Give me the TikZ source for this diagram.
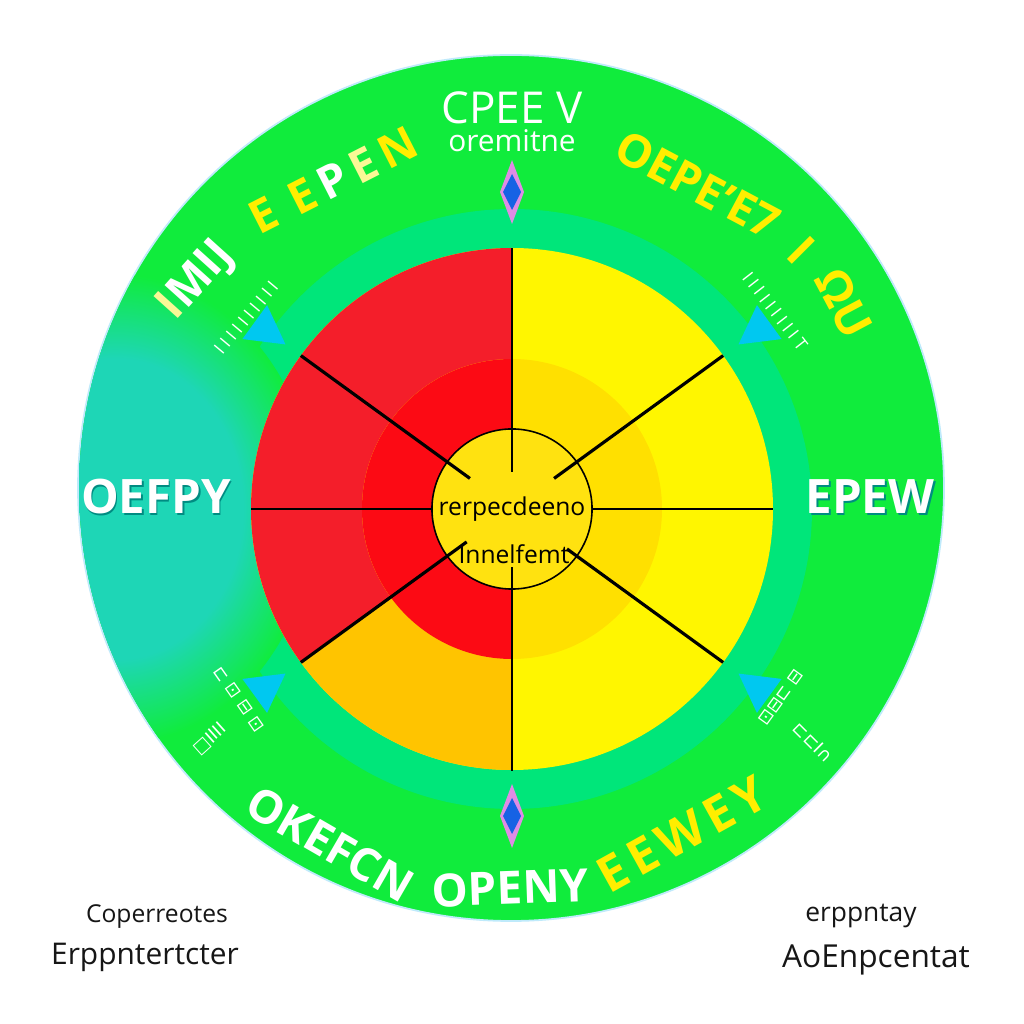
\documentclass[tikz,border=0pt]{standalone}
\usepackage{fontspec}
\setmainfont{Open Sans}
\newfontfamily\glyphfont{DejaVu Sans}
\usetikzlibrary{calc}
\definecolor{ringgreen}{RGB}{16,236,60}
\definecolor{mintband}{RGB}{0,230,122}
\definecolor{tealglow}{RGB}{30,214,182}
\definecolor{redouter}{RGB}{244,30,42}
\definecolor{redinner}{RGB}{252,10,20}
\definecolor{amber}{RGB}{255,196,0}
\definecolor{yellowouter}{RGB}{255,246,0}
\definecolor{yellowinner}{RGB}{255,224,0}
\definecolor{hubyellow}{RGB}{255,226,16}
\definecolor{tipcyan}{RGB}{0,200,240}
\definecolor{gemviolet}{RGB}{222,140,228}
\definecolor{gemblue}{RGB}{22,98,228}
\definecolor{labelyellow}{RGB}{255,238,0}
\definecolor{paleyellow}{RGB}{250,248,150}
\definecolor{shadowteal}{RGB}{0,140,130}
\definecolor{inkgray}{RGB}{22,22,22}
\pgfdeclareradialshading{tealhalo}{\pgfpoint{0bp}{0bp}}{color(0bp)=(tealglow); color(16bp)=(tealglow); color(25bp)=(ringgreen); color(50bp)=(ringgreen)}

\begin{document}
\begin{tikzpicture}[x=0.01cm, y=0.01cm,
  spoke/.style={line width=0.9pt, black},
  hline/.style={line width=0.7pt, black},
  vline/.style={line width=0.45pt, black},
  hubcircle/.style={circle, draw=black, line width=0.45pt, fill=hubyellow, minimum size=1.6cm, inner sep=0pt},
  hubtext/.style={font=\fontsize{7}{8}\selectfont, text=black, inner sep=0pt},
  toplabel/.style={font=\fontsize{12.5}{14}\selectfont, text=white, inner sep=0pt},
  subtoplabel/.style={font=\fontsize{8.5}{10}\selectfont, text=white, inner sep=0pt},
  biglabel/.style={font=\fontsize{13.5}{16}\selectfont\bfseries, text=white, inner sep=0pt},
  arclabel/.style={font=\fontsize{13}{15}\selectfont\bfseries, inner sep=0pt},
  tinylabel/.style={font=\fontsize{5}{6}\selectfont\addfontfeature{LetterSpace=25}, text=white, inner sep=0pt},
  boxlabel/.style={font=\glyphfont\fontsize{5}{6}\selectfont, text=white, inner sep=0pt},
  cornersmall/.style={font=\fontsize{7}{8}\selectfont, text=inkgray, anchor=base, inner sep=0pt},
  cornerlarge/.style={font=\fontsize{8.5}{10}\selectfont, text=inkgray, anchor=base, inner sep=0pt}
]
\useasboundingbox (0,0) rectangle (1024,1024);
\fill[white] (0,0) rectangle (1024,1024);
\coordinate (O) at (511,536);
\coordinate (C) at (512,515);

% outer disc, band and glow
\fill[ringgreen] (O) circle[radius=433];
\draw[cyan!25, line width=0.5pt] (O) circle[radius=433];
\fill[mintband] (C) circle[radius=300];
\begin{scope}
  \clip (O) circle[radius=432];
  \shade[shading=tealhalo] (115,515) ellipse[x radius=200, y radius=235];
\end{scope}

% inner wheel
\fill[yellowouter] (C) circle[radius=261];
\fill[redouter] (C) -- ($(C)+(90:261)$) arc[start angle=90, end angle=216, radius=261] -- cycle;
\fill[amber] (C) -- ($(C)+(216:261)$) arc[start angle=216, end angle=270, radius=261] -- cycle;
\fill[yellowinner] (C) circle[radius=150];
\fill[redinner] (C) -- ($(C)+(90:150)$) arc[start angle=90, end angle=270, radius=150] -- cycle;
\node[hubcircle] (hub) at (C) {};

\foreach \ang/\rin in {36/52, 144/52, 216/56, 324/68}
  \draw[spoke] ($(C)+(\ang:\rin)$) -- ($(C)+(\ang:261)$);
\draw[hline] (hub.west) -- ($(C)+(180:261)$);
\draw[hline] (hub.east) -- ($(C)+(0:261)$);
\draw[vline] ($(C)+(0,37)$) -- ($(C)+(0,261)$);
\draw[vline] ($(C)+(0,-58)$) -- ($(C)+(0,-262)$);

\node[hubtext] (hubtop) at (512,515) {rerpecdeeno};
\node[hubtext] (hubbottom) at (514,470) {Innelfemt};

% pointers
\foreach \ang in {36,144,216,324}
  \fill[tipcyan] ($(C)+(\ang:280)$) -- ($(C)+(\ang:318)+(\ang+90:21)$) -- ($(C)+(\ang:318)+(\ang-90:21)$) -- cycle;
\foreach \gy in {832,208} {
  \fill[gemviolet] (512,\gy+32) -- (524,\gy) -- (512,\gy-32) -- (500,\gy) -- cycle;
  \fill[gemblue] (512,\gy+18) -- (521,\gy) -- (512,\gy-18) -- (503,\gy) -- cycle;
}

% ring labels
\node[toplabel] (crest) at (512,916) {CPEE V};
\node[subtoplabel] (crestsub) at (512,883) {oremitne};

\node[arclabel, rotate=27] (nwword) at (333,844) {\textcolor{labelyellow}{E}\hspace{5pt}\textcolor{labelyellow}{E}\hspace{2pt}\textcolor{white}{P}\hspace{2pt}\textcolor{paleyellow}{E}\hspace{2pt}\textcolor{labelyellow}{N}};
\node[arclabel, rotate=48] (nwtag) at (197,743) {\textcolor{paleyellow}{I}\textcolor{white}{MIJ}};
\node[tinylabel, rotate=50] (nwticks) at (246,706) {IIIIIIIIII};

\node[arclabel, text=labelyellow, rotate=-28] (neword) at (698,839) {OEPE'E7};
\node[arclabel, text=labelyellow, rotate=-45] (nebar) at (801,774) {I};
\node[arclabel, text=labelyellow, rotate=-62] (netag) at (844,721) {ΩU};
\node[tinylabel, rotate=-52] (neticks) at (775,713) {IIIIIIIIIT};

\node[biglabel, text=shadowteal] (westshade) at (157.5,525.5) {OEFPY};
\node[biglabel] (westword) at (156,527) {OEFPY};
\node[biglabel, text=shadowteal] (eastshade) at (871.5,525.5) {EPEW};
\node[biglabel] (eastword) at (870,527) {EPEW};

\node[boxlabel, rotate=-55] (swboxa) at (239,325) {⊏ ⊡ ⊟ ⊡};
\node[boxlabel, rotate=42] (swboxb) at (210,285) {□IIII};
\node[boxlabel, rotate=54] (seboxa) at (781,327) {⊡⊟⊏ ⊟};
\node[boxlabel, rotate=-45] (seboxb) at (813,282) {⊏⊏I∩};

\node[arclabel, text=white, rotate=-30] (swword) at (330,180) {OKEFCN};
\node[arclabel, text=white, rotate=2] (sword) at (510,136) {OPENY};
\node[arclabel, text=labelyellow, rotate=29, font=\fontsize{14}{16}\selectfont\bfseries\addfontfeature{LetterSpace=12}] (seword) at (682,190) {EEWEY};

% corner captions
\node[cornersmall] (swcap) at (157,101) {Coperreotes};
\node[cornerlarge] (swname) at (145,59) {Erppntertcter};
\node[cornersmall, font=\fontsize{7.5}{9}\selectfont] (secap) at (861,102) {erppntay};
\node[cornerlarge, font=\fontsize{9}{11}\selectfont] (sename) at (876,56) {AoEnpcentat};
\end{tikzpicture}
\end{document}
